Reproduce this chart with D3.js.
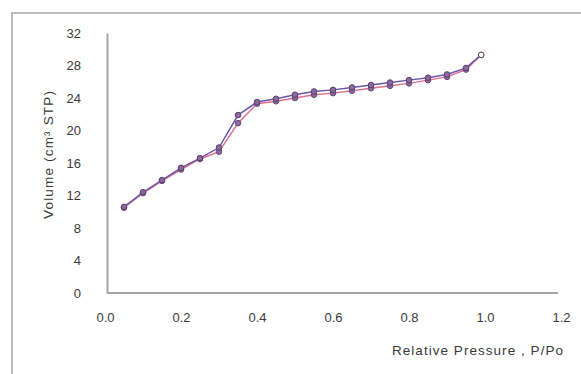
<!DOCTYPE html>
<html>
<head>
<meta charset="utf-8">
<script src="https://cdn.jsdelivr.net/npm/d3@7"></script>
<style>
  html, body { margin: 0; padding: 0; background: #fff; }
  svg { display: block; }
  text { font-family: "Liberation Sans", Arial, sans-serif; fill: #3a3a3a; }
</style>
</head>
<body>
<svg id="chart" width="581" height="374"></svg>
<script>
// Relative pressure P/Po for each measured point
const pressure = [0.05, 0.10, 0.15, 0.20, 0.25, 0.30, 0.35, 0.40, 0.45, 0.50,
                  0.55, 0.60, 0.65, 0.70, 0.75, 0.80, 0.85, 0.90, 0.95, 0.99];
// Adsorbed volume (cm³ STP), adsorption branch
const adsorption = [10.6, 12.4, 13.9, 15.4, 16.6, 17.9, 21.9, 23.5, 23.9, 24.4,
                    24.8, 25.0, 25.3, 25.6, 25.9, 26.2, 26.5, 26.9, 27.7, 29.3];
// Adsorbed volume (cm³ STP), desorption branch
const desorption = [10.5, 12.3, 13.8, 15.2, 16.5, 17.4, 20.9, 23.3, 23.6, 24.0,
                    24.4, 24.6, 24.9, 25.2, 25.5, 25.8, 26.2, 26.6, 27.5, 29.3];
const xTicks = [0, 0.2, 0.4, 0.6, 0.8, 1.0, 1.2];
const yTicks = [0, 4, 8, 12, 16, 20, 24, 28, 32];

const svg = d3.select("#chart");

// outer chart frame
svg.append("path")
  .attr("d", "M12,374 V13 H581")
  .attr("fill", "none")
  .attr("stroke", "#bdbdbd")
  .attr("stroke-width", 2);

const x = d3.scaleLinear().domain([0, 1.2]).range([105, 561]);
const y = d3.scaleLinear().domain([0, 32]).range([293, 33]);

// axes (no tick marks, just the lines and labels)
const xAxis = svg.append("g")
  .attr("transform", `translate(0,${y(0)})`)
  .call(d3.axisBottom(x).tickValues(xTicks).tickSize(0).tickPadding(20)
    .tickFormat(d3.format(".1f")));
xAxis.select(".domain").attr("stroke", "#a6a6a6").attr("stroke-width", 2)
  .attr("d", `M${x(0) + 2},0H${x(1.2) - 3}`);
xAxis.selectAll("text").attr("font-size", 13).attr("fill", "#3a3a3a")
  .attr("font-family", "Liberation Sans, Arial, sans-serif");

const yAxis = svg.append("g")
  .attr("transform", `translate(${x(0) + 2},0)`)
  .call(d3.axisLeft(y).tickValues(yTicks).tickSize(0).tickPadding(26));
yAxis.select(".domain").attr("stroke", "#a6a6a6").attr("stroke-width", 2);
yAxis.selectAll("text").attr("font-size", 13).attr("fill", "#3a3a3a")
  .attr("font-family", "Liberation Sans, Arial, sans-serif");

// axis titles
svg.append("text")
  .attr("x", 392).attr("y", 355)
  .attr("font-size", 13.5)
  .attr("textLength", 171)
  .attr("lengthAdjust", "spacing")
  .text("Relative Pressure , P/Po");

svg.append("text")
  .attr("transform", "translate(53,155) rotate(-90)")
  .attr("text-anchor", "middle")
  .attr("font-size", 13.5)
  .attr("textLength", 128)
  .attr("lengthAdjust", "spacing")
  .text("Volume (cm³ STP)");

// isotherm branches
const series = [
  { name: "desorption", values: desorption, line: "#e0708e", marker: "#6a4a78" },
  { name: "adsorption", values: adsorption, line: "#6a57a8", marker: "#5a4070" }
];

const line = d3.line()
  .x((d, i) => x(pressure[i]))
  .y(d => y(d));

series.forEach(s => {
  const g = svg.append("g").attr("class", s.name);
  g.append("path")
    .datum(s.values)
    .attr("d", line)
    .attr("fill", "none")
    .attr("stroke", s.line)
    .attr("stroke-width", 1.5);
  g.selectAll("circle")
    .data(s.values)
    .join("circle")
    .attr("cx", (d, i) => x(pressure[i]))
    .attr("cy", d => y(d))
    .attr("r", 2.8)
    .attr("fill", (d, i) => i === s.values.length - 1 ? "#fff" : "#8a6a9a")
    .attr("stroke", s.marker)
    .attr("stroke-width", 1);
});
</script>
</body>
</html>
